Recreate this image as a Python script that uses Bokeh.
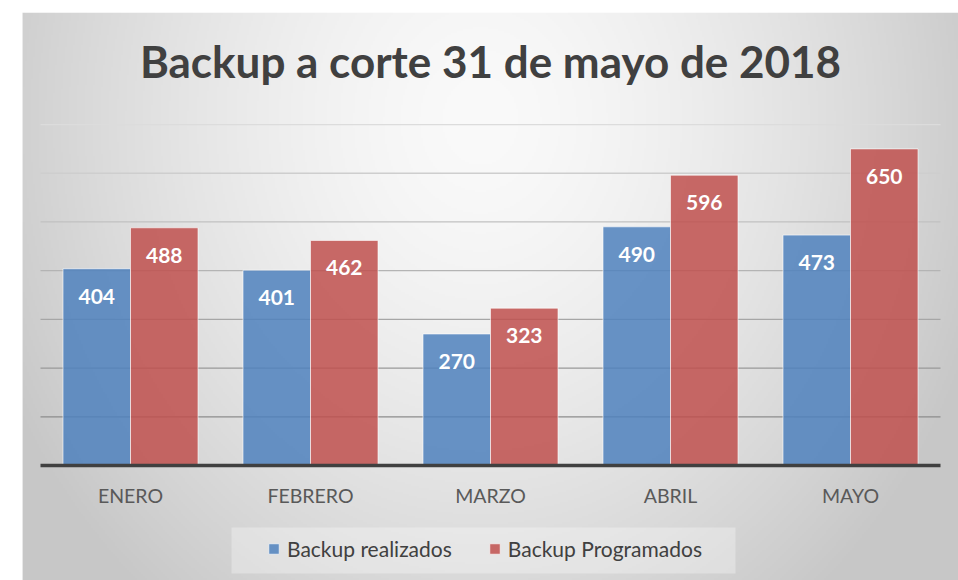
import numpy as np
from bokeh.plotting import figure
from bokeh.models import ColumnDataSource, FactorRange, Range1d, Legend, LegendItem, Label, BoxAnnotation
from bokeh.transform import dodge
from bokeh.core.properties import value
from bokeh.embed import file_html
from bokeh.resources import INLINE

# ---- data ----
months = ["ENERO", "FEBRERO", "MARZO", "ABRIL", "MAYO"]
realizados = [404, 401, 270, 490, 473]
programados = [488, 462, 323, 596, 650]
grid_values = [100, 200, 300, 400, 500, 600, 700]
title_text = "Backup a corte 31 de mayo de 2018"
series_names = ["Backup realizados", "Backup Programados"]

W, H = 958, 580
BL, BT = 22, 12
PX_PER_UNIT = 48.71
BASE_Y = 465  # canvas y of value 0
y_top = (BASE_Y - BT) / PX_PER_UNIT * 100
y_bot = -(H - BASE_Y) / PX_PER_UNIT * 100
pad = 0.1  # synthetic units on each side (18px)

p = figure(width=W, height=H, x_range=FactorRange(*months, range_padding=2 * pad / len(months)),
           y_range=Range1d(y_bot, y_top), output_backend="svg", toolbar_location=None,
           x_axis_location=None, y_axis_location=None,
           min_border_left=BL, min_border_right=0, min_border_top=BT, min_border_bottom=0)
p.xgrid.visible = False
p.ygrid.visible = False
p.outline_line_color = None
p.border_fill_color = "white"

# ---- radial gradient background (frame) ----
fw, fh = W - BL, H - BT
s = 2
nx, ny = fw // s, fh // s
jj = (np.arange(nx) + 0.5) * s + BL            # canvas x
ii = H - (np.arange(ny) + 0.5) * s             # canvas y (row 0 at bottom)
X, Y = np.meshgrid(jj, ii)
cx, cy, rx, ry = 480.0, 120.0, 480.0, 560.0
d = np.sqrt(((X - cx) / rx) ** 2 + ((Y - cy) / ry) ** 2)
L = 250 - 44 * np.clip(d, 0, 1.1) ** 1.5
L = np.clip(L, 0, 255).astype(np.uint32)
img = ((255 << 24) | (L << 16) | (L << 8) | L).astype(np.uint32)
p.image_rgba(image=[img], x=-pad, y=y_bot, dw=len(months) + 2 * pad, dh=y_top - y_bot, level="image")

# grey strip left of the frame (chart area starts at x=10)
p.add_layout(BoxAnnotation(left=10, right=BL, top=BT, bottom=H,
                           left_units="canvas", right_units="canvas",
                           top_units="canvas", bottom_units="canvas",
                           fill_color="#cecece", fill_alpha=1, line_alpha=0, level="underlay"))

# ---- gridlines ----
gcols = []
for v in grid_values:
    c = int(140 + (v - 100) / 600 * 80)
    gcols.append("#%02x%02x%02x" % (c, c, c))
p.segment(x0=[0] * len(grid_values), x1=[len(months)] * len(grid_values),
          y0=grid_values, y1=grid_values, line_color=gcols, line_width=1.3)

# ---- bars ----
src = ColumnDataSource(dict(m=months, r=realizados, pg=programados,
                            rt=[str(v) for v in realizados], pt=[str(v) for v in programados]))
bw = 0.375
r1 = p.vbar(x=dodge("m", -bw / 2, range=p.x_range), top="r", width=bw, source=src,
            fill_color="#4f81bd", fill_alpha=0.85, line_color="white", line_alpha=0.6, line_width=1)
r2 = p.vbar(x=dodge("m", bw / 2, range=p.x_range), top="pg", width=bw, source=src,
            fill_color="#c0504d", fill_alpha=0.85, line_color="white", line_alpha=0.6, line_width=1)

# baseline
p.segment(x0=[0], x1=[len(months)], y0=[0], y1=[0], line_color="#404040", line_width=3.5)

# data labels
for col, tcol, off in (("r", "rt", -bw / 2), ("pg", "pt", bw / 2)):
    p.text(x=dodge("m", off, range=p.x_range), y=col, text=tcol, source=src,
           text_align="center", text_baseline="alphabetic", y_offset=27.5,
           text_font=value("Lato"), text_font_style="bold", text_font_size="21px",
           text_color="white")

# category labels
p.text(x="m", y=0, text="m", source=src, text_align="center", text_baseline="alphabetic",
       y_offset=30, text_font=value("Lato"), text_font_size="19.5px", text_color="#595959")

# title
p.add_layout(Label(x=468, y=519.4, x_units="screen", y_units="screen", text=title_text,
                   text_align="center", text_baseline="alphabetic", text_font="Lato",
                   text_font_style="bold", text_font_size="44px", text_color="#404040"))

# legend background box
p.add_layout(BoxAnnotation(left=209, right=713, bottom=7, top=53,
                           left_units="screen", right_units="screen",
                           bottom_units="screen", top_units="screen",
                           fill_color="white", fill_alpha=0.3, line_alpha=0))

legend = Legend(items=[LegendItem(label=series_names[0], renderers=[r1]),
                       LegendItem(label=series_names[1], renderers=[r2])],
                orientation="horizontal", location=(245, 19),
                background_fill_alpha=0, border_line_alpha=0, padding=0, margin=0,
                spacing=36, glyph_width=13, glyph_height=13, label_standoff=7,
                label_text_font="Lato", label_text_font_size="21px", label_text_color="#404040")
p.add_layout(legend, "center")

open("out.html", "w").write(file_html(p, INLINE))
